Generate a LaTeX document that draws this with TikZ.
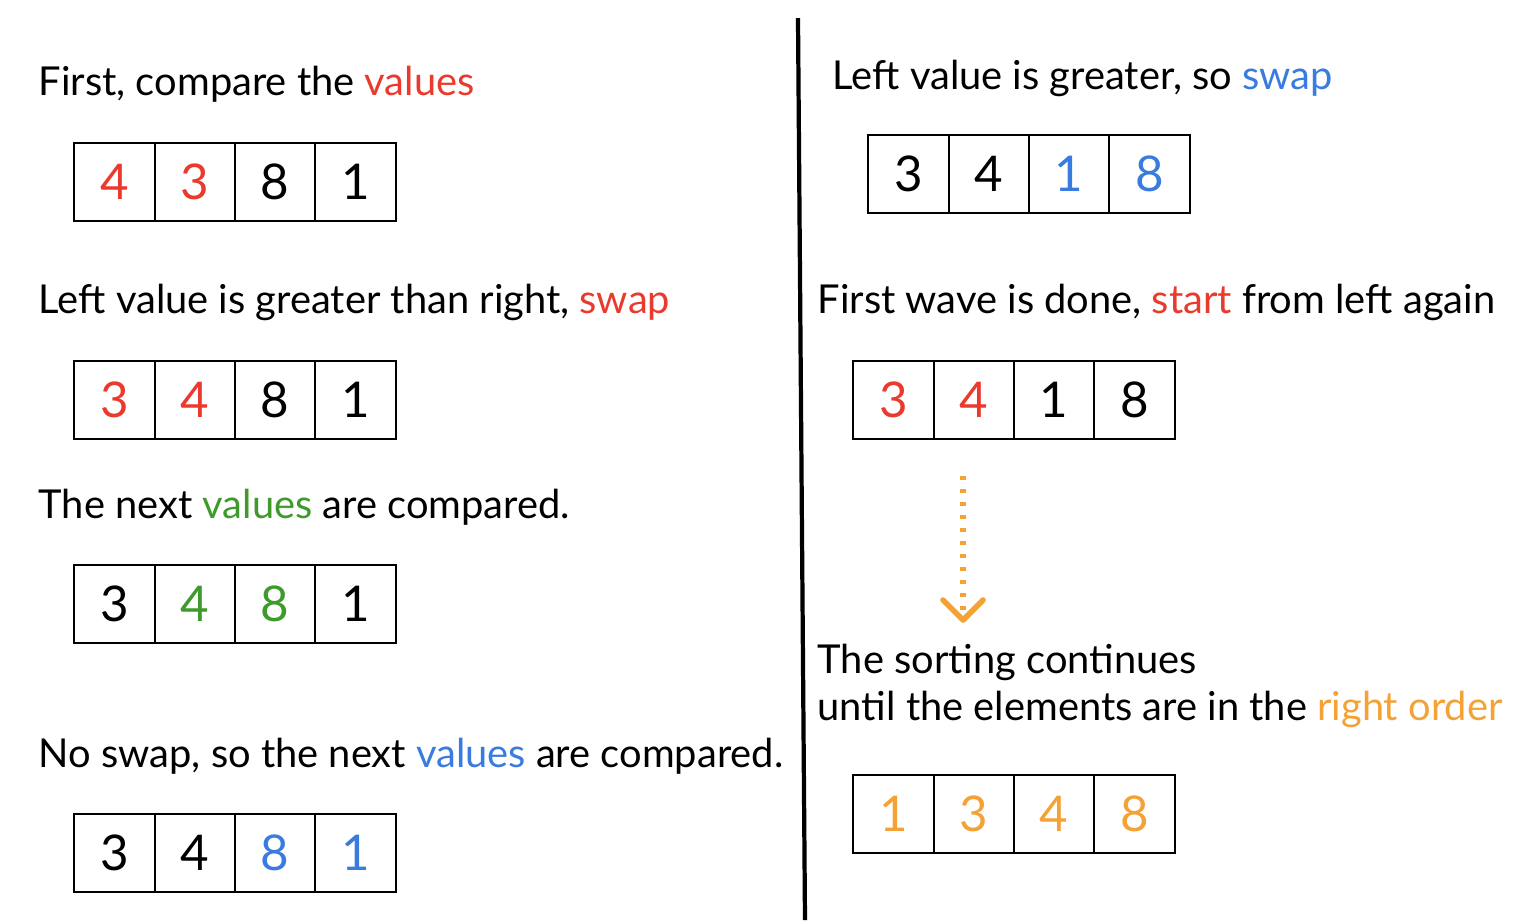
\documentclass[tikz,border=0pt]{standalone}
\usepackage{fontspec}
\setmainfont{Lato}
\usepackage{tikz}
\usetikzlibrary{positioning}
\definecolor{valred}{HTML}{EA3A2D}
\definecolor{valgreen}{HTML}{3E9A2A}
\definecolor{valblue}{HTML}{3A7BE0}
\definecolor{valorange}{HTML}{F4A236}

\begin{document}
\begin{tikzpicture}[x=0.01cm, y=-0.01cm,
  cell/.style={draw, line width=0.55pt, outer sep=0pt, minimum width=0.803cm, minimum height=0.78cm, inner sep=0pt, font=\fontsize{14}{16}\selectfont},
  caption/.style={anchor=base west, inner sep=0pt, font=\fontsize{11.33}{14}\selectfont}]
\useasboundingbox (0,0) rectangle (1514,920);
% left column
\node[caption] (t1) at (38,95) {First, compare the \textcolor{valred}{values}};
\node[cell, text=valred] (a1) at (114.5,182) {4};
\node[cell, text=valred, right=0pt of a1] (a2) {3};
\node[cell, right=0pt of a2] (a3) {8};
\node[cell, right=0pt of a3] (a4) {1};

\node[caption] (t2) at (38,313) {Left value is greater than right, \textcolor{valred}{swap}};
\node[cell, text=valred] (b1) at (114.5,400) {3};
\node[cell, text=valred, right=0pt of b1] (b2) {4};
\node[cell, right=0pt of b2] (b3) {8};
\node[cell, right=0pt of b3] (b4) {1};

\node[caption] (t3) at (38,518) {The next \textcolor{valgreen}{values} are compared.};
\node[cell] (c1) at (114.5,604) {3};
\node[cell, text=valgreen, right=0pt of c1] (c2) {4};
\node[cell, text=valgreen, right=0pt of c2] (c3) {8};
\node[cell, right=0pt of c3] (c4) {1};

\node[caption] (t4) at (38,767) {No swap, so the next \textcolor{valblue}{values} are compared.};
\node[cell] (d1) at (114.5,853) {3};
\node[cell, right=0pt of d1] (d2) {4};
\node[cell, text=valblue, right=0pt of d2] (d3) {8};
\node[cell, text=valblue, right=0pt of d3] (d4) {1};

% divider
\coordinate (divtop) at (798,18);
\coordinate (divbot) at (805,920);
\draw[line width=1.2pt] (divtop) -- (divbot);

% right column
\node[caption] (t5) at (832,89) {Left value is greater, so \textcolor{valblue}{swap}};
\node[cell] (e1) at (908.5,174) {3};
\node[cell, right=0pt of e1] (e2) {4};
\node[cell, text=valblue, right=0pt of e2] (e3) {1};
\node[cell, text=valblue, right=0pt of e3] (e4) {8};

\node[caption] (t6) at (817,313) {First wave is done, \textcolor{valred}{start} from left again};
\node[cell, text=valred] (f1) at (893.5,400) {3};
\node[cell, text=valred, right=0pt of f1] (f2) {4};
\node[cell, right=0pt of f2] (f3) {1};
\node[cell, right=0pt of f3] (f4) {8};

\coordinate (arrtop) at (963,476);
\coordinate (arrbot) at (963,620);
\draw[valorange, line width=1.5pt, dash pattern=on 1.2pt off 2.5pt] (arrtop) -- ([yshift=0.1cm]arrbot);
\draw[valorange, line width=1.6pt, line cap=round, line join=round]
  ([shift={(-20,-20)}]arrbot) -- (arrbot) -- ([shift={(20,-20)}]arrbot);

\node[caption] (t7) at (817,673) {The sorting continues};
\node[caption] (t8) at (817,720) {until the elements are in the \textcolor{valorange}{right order}};
\node[cell, text=valorange] (g1) at (893.5,814) {1};
\node[cell, text=valorange, right=0pt of g1] (g2) {3};
\node[cell, text=valorange, right=0pt of g2] (g3) {4};
\node[cell, text=valorange, right=0pt of g3] (g4) {8};
\end{tikzpicture}
\end{document}
